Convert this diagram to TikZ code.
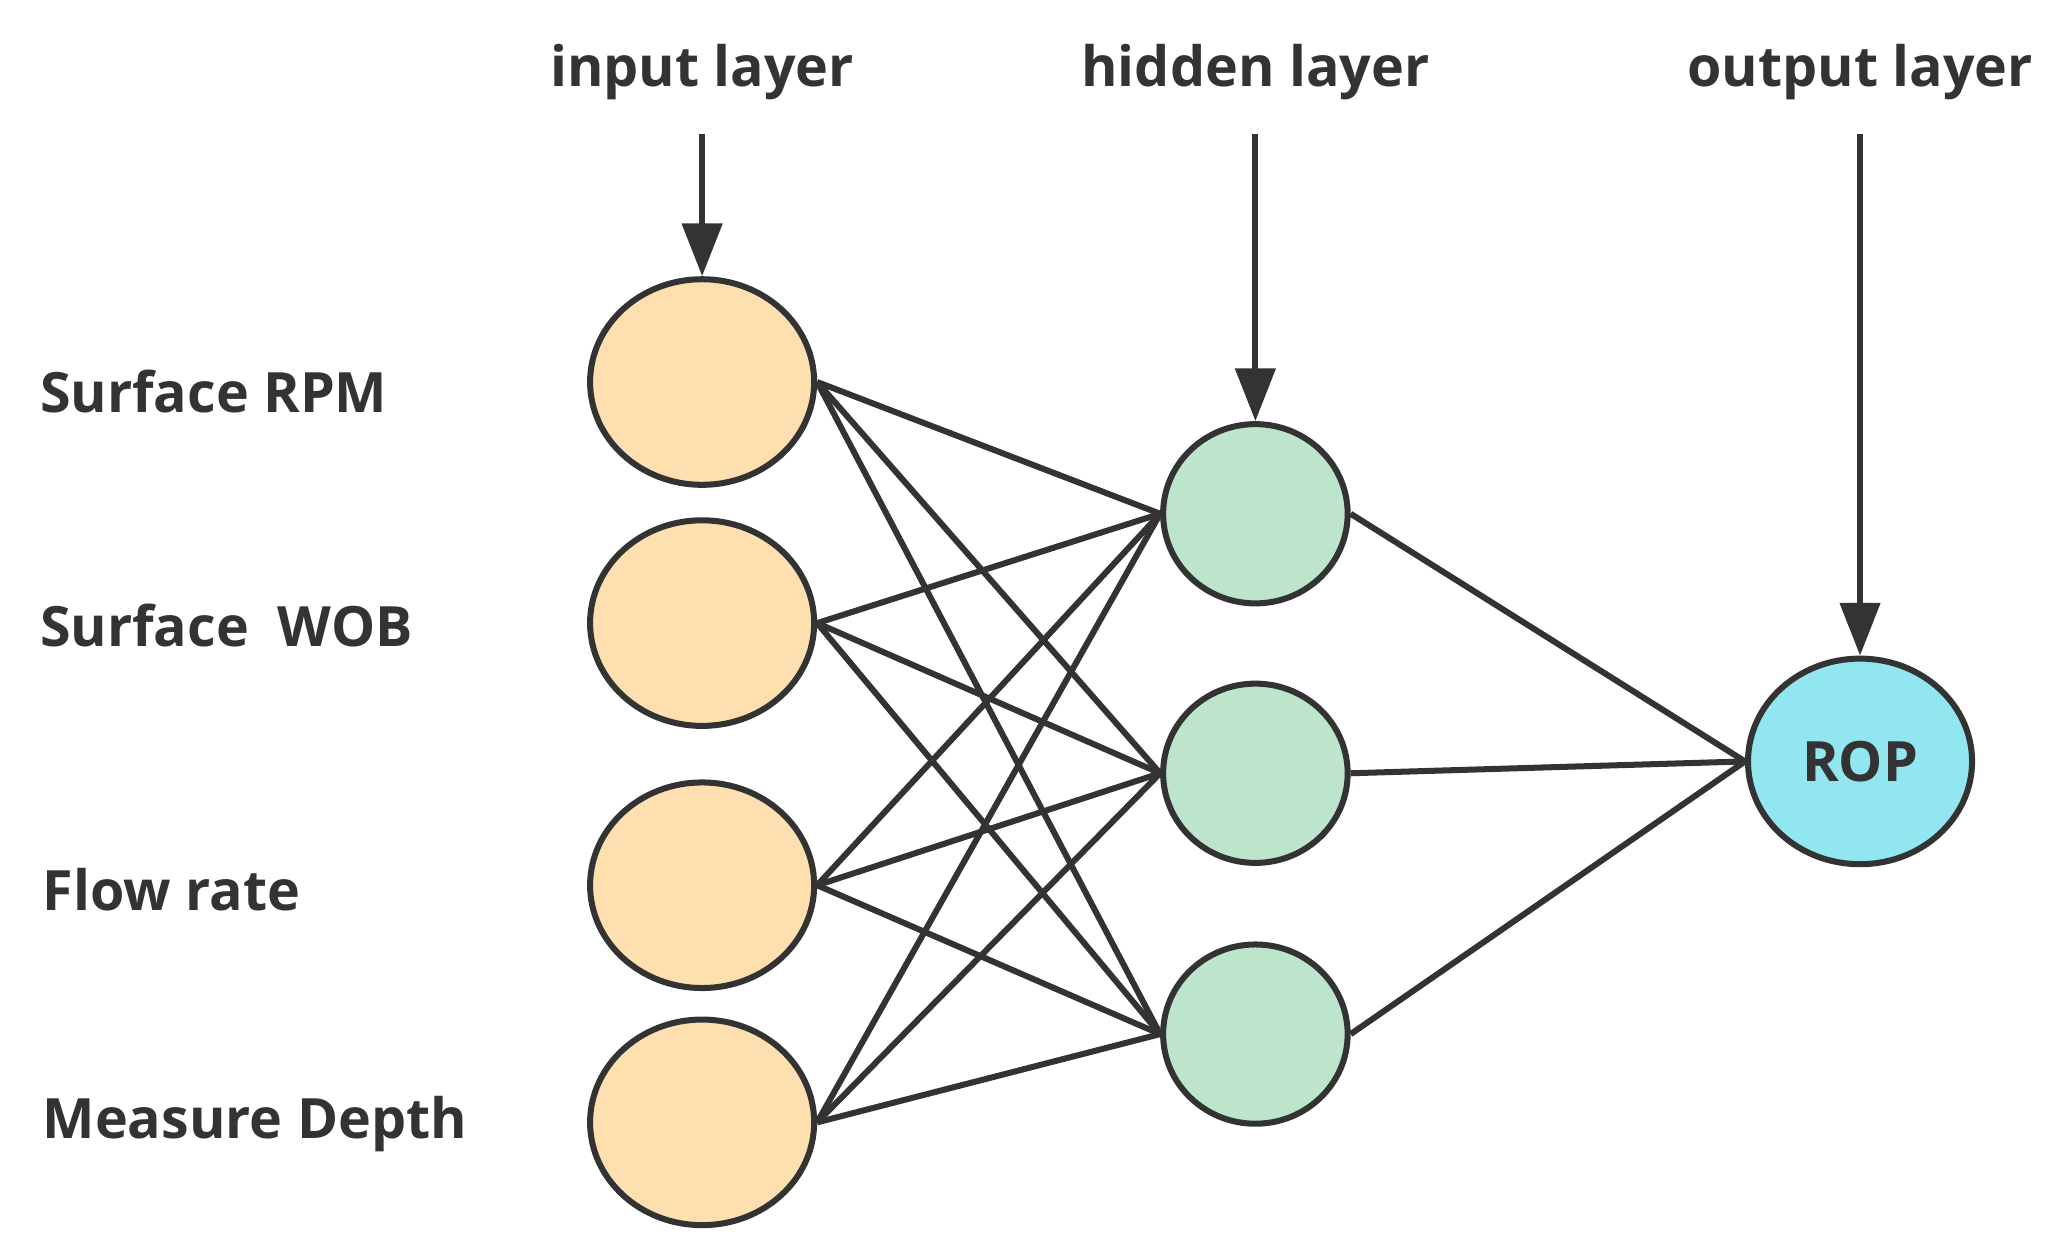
\documentclass[tikz,border=0pt]{standalone}
\usepackage{fontspec}
\setmainfont{Open Sans}
\usetikzlibrary{shapes.geometric,arrows.meta}
\definecolor{inF}{HTML}{FDDFB0}
\definecolor{hidF}{HTML}{BDE5CC}
\definecolor{outF}{HTML}{92E6F0}
\definecolor{ink}{HTML}{333333}
\begin{document}
\begin{tikzpicture}[x=0.01cm,y=-0.01cm,
  neu/.style={ellipse,draw=ink,line width=1.3pt,inner sep=0pt},
  inp/.style={neu,fill=inF,minimum width=170\pgflinewidth*0+1.70cm,minimum height=1.56cm},
  hid/.style={neu,fill=hidF,minimum width=1.40cm,minimum height=1.36cm},
  outp/.style={neu,fill=outF,minimum width=1.70cm,minimum height=1.56cm},
  txt/.style={font=\fontsize{12}{14}\selectfont\bfseries,text=ink},
  lbl/.style={txt,anchor=west},
  con/.style={draw=ink,line width=1.3pt},
  arr/.style={con,-{Triangle[length=0.4cm,width=0.3cm]}}]
\useasboundingbox (0,0) rectangle (1560,948);
\node[inp] (i1) at (533,290) {};
\node[inp] (i2) at (533,473) {};
\node[inp] (i3) at (533,672) {};
\node[inp] (i4) at (533,852) {};
\node[hid] (h1) at (953,390) {};
\node[hid] (h2) at (953,587) {};
\node[hid] (h3) at (953,785) {};
\node[outp,txt] (o) at (1412,578) {ROP};
\node[txt] (t1) at (533,55) {input layer};
\node[txt] (t2) at (953,55) {hidden layer};
\node[txt] (t3) at (1412,55) {output layer};
\coordinate (a1) at (533,102);
\coordinate (a2) at (953,102);
\coordinate (a3) at (1412,102);
\draw[arr] (a1) -- (i1.north);
\draw[arr] (a2) -- (h1.north);
\draw[arr] (a3) -- (o.north);
\node[lbl] (l1) at (18,297) {Surface RPM};
\node[lbl] (l2) at (18,475) {Surface\ \ WOB};
\node[lbl] (l3) at (20,675) {Flow rate};
\node[lbl] (l4) at (20,853) {Measure Depth};
\foreach \i in {i1,i2,i3,i4}{\foreach \h in {h1,h2,h3}{\draw[con] (\i.east) -- (\h.west);}}
\foreach \h in {h1,h2,h3}{\draw[con] (\h.east) -- (o.west);}
\end{tikzpicture}
\end{document}
